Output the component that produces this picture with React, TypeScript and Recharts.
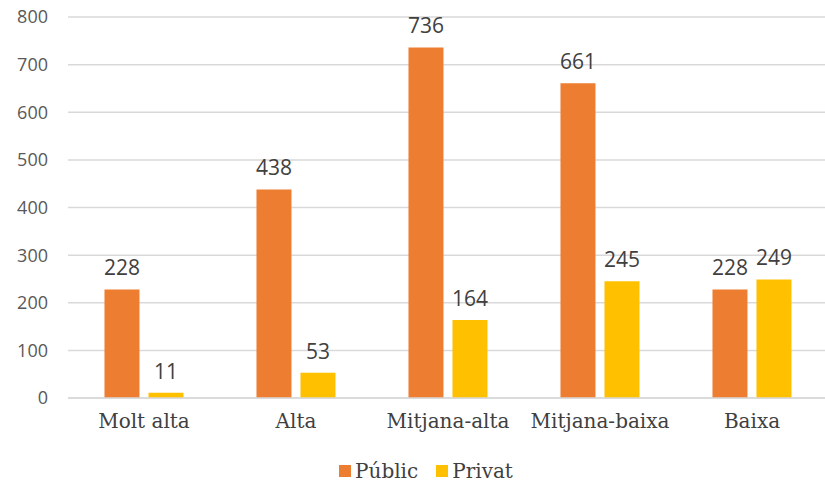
import React from 'react';
import { BarChart, Bar, XAxis, YAxis, CartesianGrid, Legend, LabelList } from 'recharts';

const categories = ['Molt alta', 'Alta', 'Mitjana-alta', 'Mitjana-baixa', 'Baixa'];
const publicValues = [228, 438, 736, 661, 228];
const privatValues = [11, 53, 164, 245, 249];
const yTicks = [0, 100, 200, 300, 400, 500, 600, 700, 800];
const seriesNames = ['Públic', 'Privat'];
const seriesColors = ['#ED7D31', '#FFC000'];

const data = categories.map((c, i) => ({ name: c, public: publicValues[i], privat: privatValues[i] }));

const sans = '"Open Sans", "Noto Sans", sans-serif';
const serif = '"DejaVu Serif", serif';

const LegendContent = () => (
  <div style={{ display: 'flex', justifyContent: 'center', alignItems: 'center', fontFamily: serif, fontSize: 20, color: '#404040', paddingLeft: 24, paddingTop: 4 }}>
    {seriesNames.map((n, i) => (
      <div key={n} style={{ display: 'flex', alignItems: 'center', marginRight: i === 0 ? 18 : 0 }}>
        <span style={{ display: 'inline-block', width: 12, height: 12, background: seriesColors[i], marginRight: 4 }} />
        <span>{n}</span>
      </div>
    ))}
  </div>
);

export default function App() {
  return (
    <div style={{ position: 'absolute', left: 0, top: 0, width: 825, height: 485, background: '#fff', overflow: 'hidden' }}>
      <BarChart width={828} height={485} data={data} margin={{ top: 17, right: 0, left: 0, bottom: 0 }} barCategoryGap="24%" barGap={9}>
        <CartesianGrid vertical={false} stroke="#D9D9D9" strokeWidth={1.5} />
        <XAxis dataKey="name" tickLine={false} axisLine={{ stroke: '#D9D9D9', strokeWidth: 1.5 }} tickSize={0} tickMargin={16} height={57}
          tick={{ fontFamily: serif, fontSize: 20, fill: '#404040' }} interval={0} />
        <YAxis domain={[0, 800]} ticks={yTicks} width={68} tickLine={false} axisLine={false} tickSize={0} tickMargin={20}
          tick={{ fontFamily: sans, fontSize: 18, fill: '#595959' }} />
        <Legend verticalAlign="bottom" height={30} content={<LegendContent />} />
        <Bar dataKey="public" name="Públic" fill={seriesColors[0]} isAnimationActive={false}>
          <LabelList dataKey="public" position="top" offset={14} style={{ fontFamily: sans, fontSize: 21, fill: '#404040' }} />
        </Bar>
        <Bar dataKey="privat" name="Privat" fill={seriesColors[1]} isAnimationActive={false}>
          <LabelList dataKey="privat" position="top" offset={14} style={{ fontFamily: sans, fontSize: 21, fill: '#404040' }} />
        </Bar>
      </BarChart>
    </div>
  );
}
